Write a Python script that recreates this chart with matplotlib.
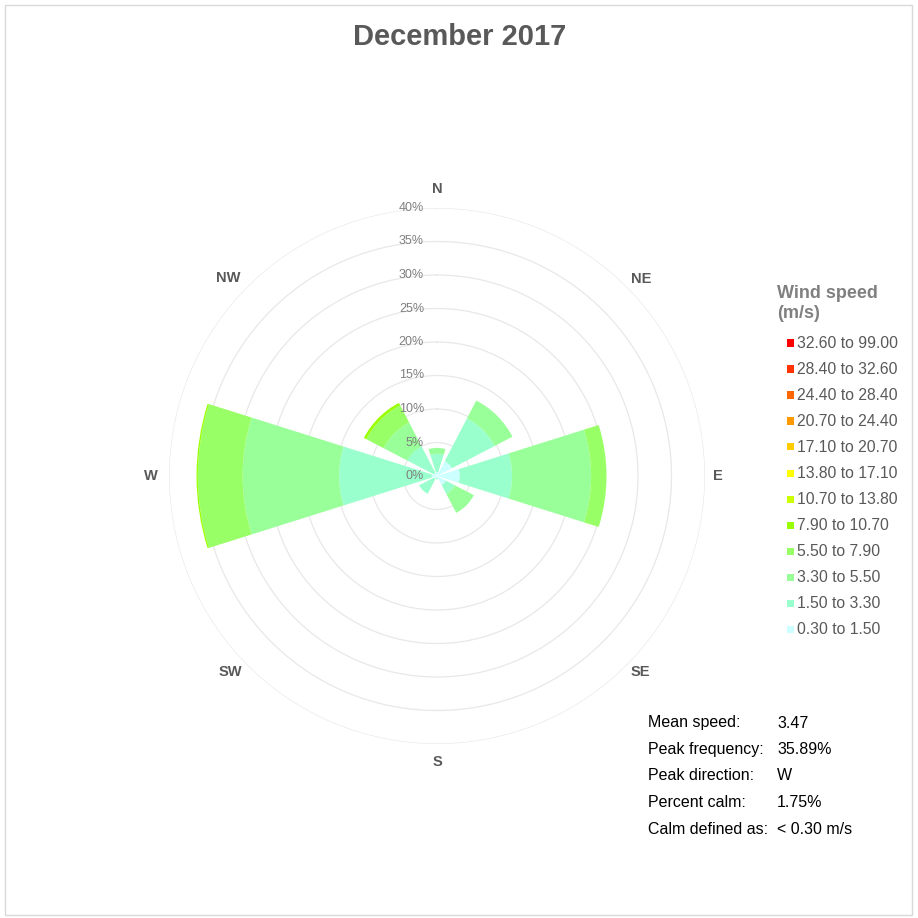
import numpy as np
import matplotlib.pyplot as plt
from matplotlib.patches import Rectangle
import matplotlib.transforms as mtransforms

plt.rcParams['font.family'] = ['Liberation Sans', 'DejaVu Sans']

title = 'December 2017'
directions = ['N', 'NE', 'E', 'SE', 'S', 'SW', 'W', 'NW']
dir_angles = [0, 45, 90, 135, 180, 225, 270, 315]

speed_bins = ['0.30 to 1.50', '1.50 to 3.30', '3.30 to 5.50', '5.50 to 7.90',
              '7.90 to 10.70', '10.70 to 13.80', '13.80 to 17.10', '17.10 to 20.70',
              '20.70 to 24.40', '24.40 to 28.40', '28.40 to 32.60', '32.60 to 99.00']
bin_colors = ['#ccffff', '#99ffcc', '#99ff99', '#99ff66', '#99ff00', '#ccff00',
              '#ffff00', '#ffcc00', '#ff9900', '#ff6600', '#ff3300', '#ff0000']

# frequency (%) per direction, one list per speed bin (N, NE, E, SE, S, SW, W, NW)
f_030_150 = [0.6, 2.5, 3.4, 1.5, 0.2, 0.5, 0.8, 0.5]
f_150_330 = [2.7, 7.2, 7.8, 1.5, 0.3, 2.5, 13.8, 4.5]
f_330_550 = [0.9, 3.0, 11.8, 3.2, 0.0, 0.0, 14.4, 4.0]
f_550_790 = [0.0, 0.0, 2.3, 0.0, 0.0, 0.0, 6.7, 2.9]
f_790_1070 = [0.0, 0.0, 0.0, 0.0, 0.0, 0.0, 0.19, 0.4]
f_zero = [0.0] * 8
bin_freqs = [f_030_150, f_150_330, f_330_550, f_550_790, f_790_1070,
             f_zero, f_zero, f_zero, f_zero, f_zero, f_zero, f_zero]

r_ticks = [0, 5, 10, 15, 20, 25, 30, 35, 40]

stats_names = ['Mean speed:', 'Peak frequency:', 'Peak direction:', 'Percent calm:', 'Calm defined as:']
stats_values = ['3.47', '35.89%', 'W', '1.75%', '< 0.30 m/s']

# where each compass label sits (angle in degrees, radius in % units)
label_ang = [0, 46, 90, 134, 180, 226.5, 270, 313.5]
label_r = [42.9, 42.4, 41.9, 42.1, 42.7, 42.5, 42.7, 43.0]

W, H = 918, 918
fig = plt.figure(figsize=(W / 100, H / 100), dpi=100)
fig.patch.set_facecolor('white')

cx, cy, R = 437, 476, 268
ax = fig.add_axes([(cx - R) / W, (H - cy - R) / H, 2 * R / W, 2 * R / H], projection='polar')
ax.set_theta_zero_location('N')
ax.set_theta_direction(-1)
ax.set_ylim(0, 40)

theta = np.deg2rad(dir_angles)
width = np.deg2rad(35)
bottom = np.zeros(len(directions))
for freqs, col in zip(bin_freqs, bin_colors):
    vals = np.array(freqs)
    ax.bar(theta, vals, width=width, bottom=bottom, color=col, edgecolor='none', zorder=3)
    bottom = bottom + vals

ax.set_xticks([])
ax.set_yticks(r_ticks[1:])
ax.set_yticklabels([])
ax.grid(False)
ax.spines['polar'].set_visible(False)
ring_t = np.linspace(0, 2 * np.pi, 400)
for r in r_ticks[1:]:
    ax.plot(ring_t, np.full_like(ring_t, r), color='#e8e8e8', lw=0.9, zorder=1)

lab_tr = mtransforms.offset_copy(ax.transData, fig=fig, x=-13, y=0, units='dots')
for r in r_ticks:
    ax.text(0, r, f'{r}%', transform=lab_tr, ha='right', va='center',
            fontsize=9, color='#7f7f7f', zorder=5)

for name, ang, lr in zip(directions, label_ang, label_r):
    ax.text(np.deg2rad(ang), lr, name, ha='center', va='center',
            fontsize=10.5, fontweight='bold', color='#595959')

fig.text(460 / W, 1 - 37 / H, title, ha='center', va='center',
         fontsize=21, fontweight='bold', color='#595959')

# legend
fig.text(777 / W, 1 - 293 / H, 'Wind speed', ha='left', va='center',
         fontsize=13, fontweight='bold', color='#808080')
fig.text(777 / W, 1 - 314 / H, '(m/s)', ha='left', va='center',
         fontsize=13, fontweight='bold', color='#808080')
for i, (lab, col) in enumerate(zip(speed_bins[::-1], bin_colors[::-1])):
    y = 343 + i * 26
    fig.patches.append(Rectangle(((787) / W, 1 - (y + 3.5) / H), 7 / W, 7 / H,
                                 transform=fig.transFigure, facecolor=col, edgecolor='none'))
    fig.text(797 / W, 1 - y / H, lab, ha='left', va='center', fontsize=11.3, color='#595959')

# stats
for i, (n, v) in enumerate(zip(stats_names, stats_values)):
    y = 723 + i * 26.5
    fig.text(648 / W, 1 - y / H, n, ha='left', va='center', fontsize=11.5, color='black')
    fig.text(777 / W, 1 - y / H, v, ha='left', va='center', fontsize=11.5, color='black')

fig.patches.append(Rectangle((5 / W, 3 / H), 907 / W, 910 / H, transform=fig.transFigure,
                             facecolor='none', edgecolor='#d9d9d9', lw=1))

fig.savefig('out.png', dpi=100, facecolor='white')
